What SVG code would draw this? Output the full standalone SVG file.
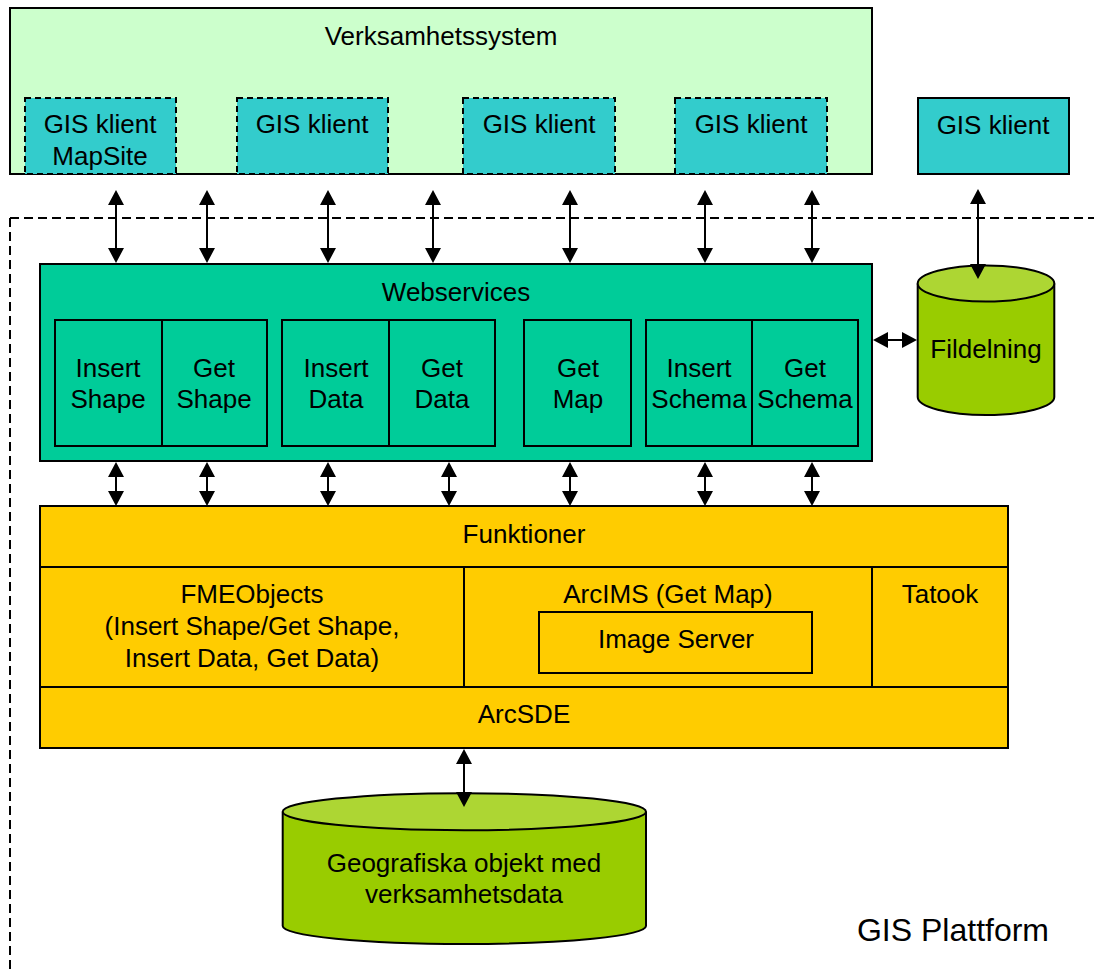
<svg xmlns="http://www.w3.org/2000/svg" width="1094" height="972" viewBox="0 0 1094 972">
<style>
text{font-family:"Liberation Sans",Arial,sans-serif;font-size:26px;fill:#000;text-anchor:middle}
.box{stroke:#000;stroke-width:2}
.client{fill:#33CCCC;stroke:#000;stroke-width:2}
.dash{stroke-dasharray:6,4}
.ws{fill:#00CC99;stroke:#000;stroke-width:2}
.fn{fill:#FFCC00;stroke:#000;stroke-width:2}
.ln{stroke:#000;stroke-width:2;fill:none}
.arr{stroke:#000;stroke-width:2;fill:none;marker-start:url(#ah);marker-end:url(#ah)}
.cylb{fill:#99CC00;stroke:#000;stroke-width:2}
.cylt{fill:#ADD633;stroke:#000;stroke-width:2}
</style>
<defs>
<marker id="ah" viewBox="0 0 15 16" refX="13" refY="8" markerWidth="15" markerHeight="16" markerUnits="userSpaceOnUse" orient="auto-start-reverse">
<path d="M0,0 L15,8 L0,16 z" fill="#000"/>
</marker>
</defs>
<rect width="1094" height="972" fill="#fff"/>

<g id="platform-boundary">
<path d="M10,218 H1094 M10,218 V972" class="ln" stroke-dasharray="9,5"/>
<text x="953" y="941" style="font-size:32px">GIS Plattform</text>
</g>

<g id="verksamhetssystem">
<rect x="10" y="8" width="862" height="166" fill="#CCFFCC" class="box"/>
<text x="441" y="45">Verksamhetssystem</text>
</g>
<g id="klient1">
<rect x="25" y="98" width="151" height="76" class="client dash"/>
<text x="100" y="133">GIS klient</text>
<text x="100" y="165">MapSite</text>
</g>
<g id="klient2">
<rect x="237" y="98" width="151" height="76" class="client dash"/>
<text x="312" y="133">GIS klient</text>
</g>
<g id="klient3">
<rect x="463" y="98" width="152" height="76" class="client dash"/>
<text x="539" y="133">GIS klient</text>
</g>
<g id="klient4">
<rect x="675" y="98" width="152" height="76" class="client dash"/>
<text x="751" y="133">GIS klient</text>
</g>
<g id="klient5">
<rect x="918" y="98" width="151" height="76" class="client"/>
<text x="993" y="134">GIS klient</text>
</g>

<g id="webservices">
<rect x="40" y="264" width="832" height="197" class="ws"/>
<text x="456" y="301">Webservices</text>
</g>
<g id="insert-shape">
<rect x="55" y="320" width="107" height="126" class="ws"/>
<text x="108" y="377">Insert</text><text x="108" y="408">Shape</text>
</g>
<g id="get-shape">
<rect x="162" y="320" width="105" height="126" class="ws"/>
<text x="214" y="377">Get</text><text x="214" y="408">Shape</text>
</g>
<g id="insert-data">
<rect x="282" y="320" width="107" height="126" class="ws"/>
<text x="336" y="377">Insert</text><text x="336" y="408">Data</text>
</g>
<g id="get-data">
<rect x="389" y="320" width="106" height="126" class="ws"/>
<text x="442" y="377">Get</text><text x="442" y="408">Data</text>
</g>
<g id="get-map">
<rect x="524" y="320" width="107" height="126" class="ws"/>
<text x="578" y="377">Get</text><text x="578" y="408">Map</text>
</g>
<g id="insert-schema">
<rect x="646" y="320" width="106" height="126" class="ws"/>
<text x="699" y="377">Insert</text><text x="699" y="408">Schema</text>
</g>
<g id="get-schema">
<rect x="752" y="320" width="106" height="126" class="ws"/>
<text x="805" y="377">Get</text><text x="805" y="408">Schema</text>
</g>

<g id="fildelning">
<path d="M917.7,283.5 V397 A68.3,18 0 0 0 1054.3,397 V283.5" class="cylb"/>
<ellipse cx="986" cy="283.5" rx="68.3" ry="18" class="cylt"/>
<text x="986" y="358">Fildelning</text>
</g>

<g id="funktioner">
<rect x="40" y="506" width="968" height="242" class="fn"/>
<path d="M40,567 H1008 M40,687 H1008" class="ln"/>
<text x="524" y="543">Funktioner</text>
</g>
<g id="fmeobjects">
<path d="M464,567 V687" class="ln"/>
<text x="252" y="603">FMEObjects</text>
<text x="252" y="635">(Insert Shape/Get Shape,</text>
<text x="252" y="667">Insert Data, Get Data)</text>
</g>
<g id="arcims">
<text x="668" y="603">ArcIMS (Get Map)</text>
</g>
<g id="image-server">
<rect x="539" y="612" width="273" height="61" class="fn"/>
<text x="676" y="648">Image Server</text>
</g>
<g id="tatook">
<path d="M872,567 V687" class="ln"/>
<text x="940" y="603">Tatook</text>
</g>
<g id="arcsde">
<text x="524" y="723">ArcSDE</text>
</g>

<g id="geodata">
<path d="M282.7,811.7 V926 A181.65,18 0 0 0 646,926 V811.7" class="cylb"/>
<ellipse cx="464.35" cy="811.7" rx="181.65" ry="18.5" class="cylt"/>
<text x="464" y="872">Geografiska objekt med</text>
<text x="464" y="903">verksamhetsdata</text>
</g>

<g id="connectors">
<path d="M116,192 V261" class="arr"/>
<path d="M207,192 V261" class="arr"/>
<path d="M328,192 V261" class="arr"/>
<path d="M433,192 V261" class="arr"/>
<path d="M570,192 V261" class="arr"/>
<path d="M705,192 V261" class="arr"/>
<path d="M812,192 V261" class="arr"/>
<path d="M978,191 V277" class="arr"/>
<path d="M116,464 V504" class="arr"/>
<path d="M207,464 V504" class="arr"/>
<path d="M328,464 V504" class="arr"/>
<path d="M449,464 V504" class="arr"/>
<path d="M570,464 V504" class="arr"/>
<path d="M705,464 V504" class="arr"/>
<path d="M812,464 V504" class="arr"/>
<path d="M875,340 H915" class="arr"/>
<path d="M464,751 V805" class="arr"/>
</g>
</svg>
